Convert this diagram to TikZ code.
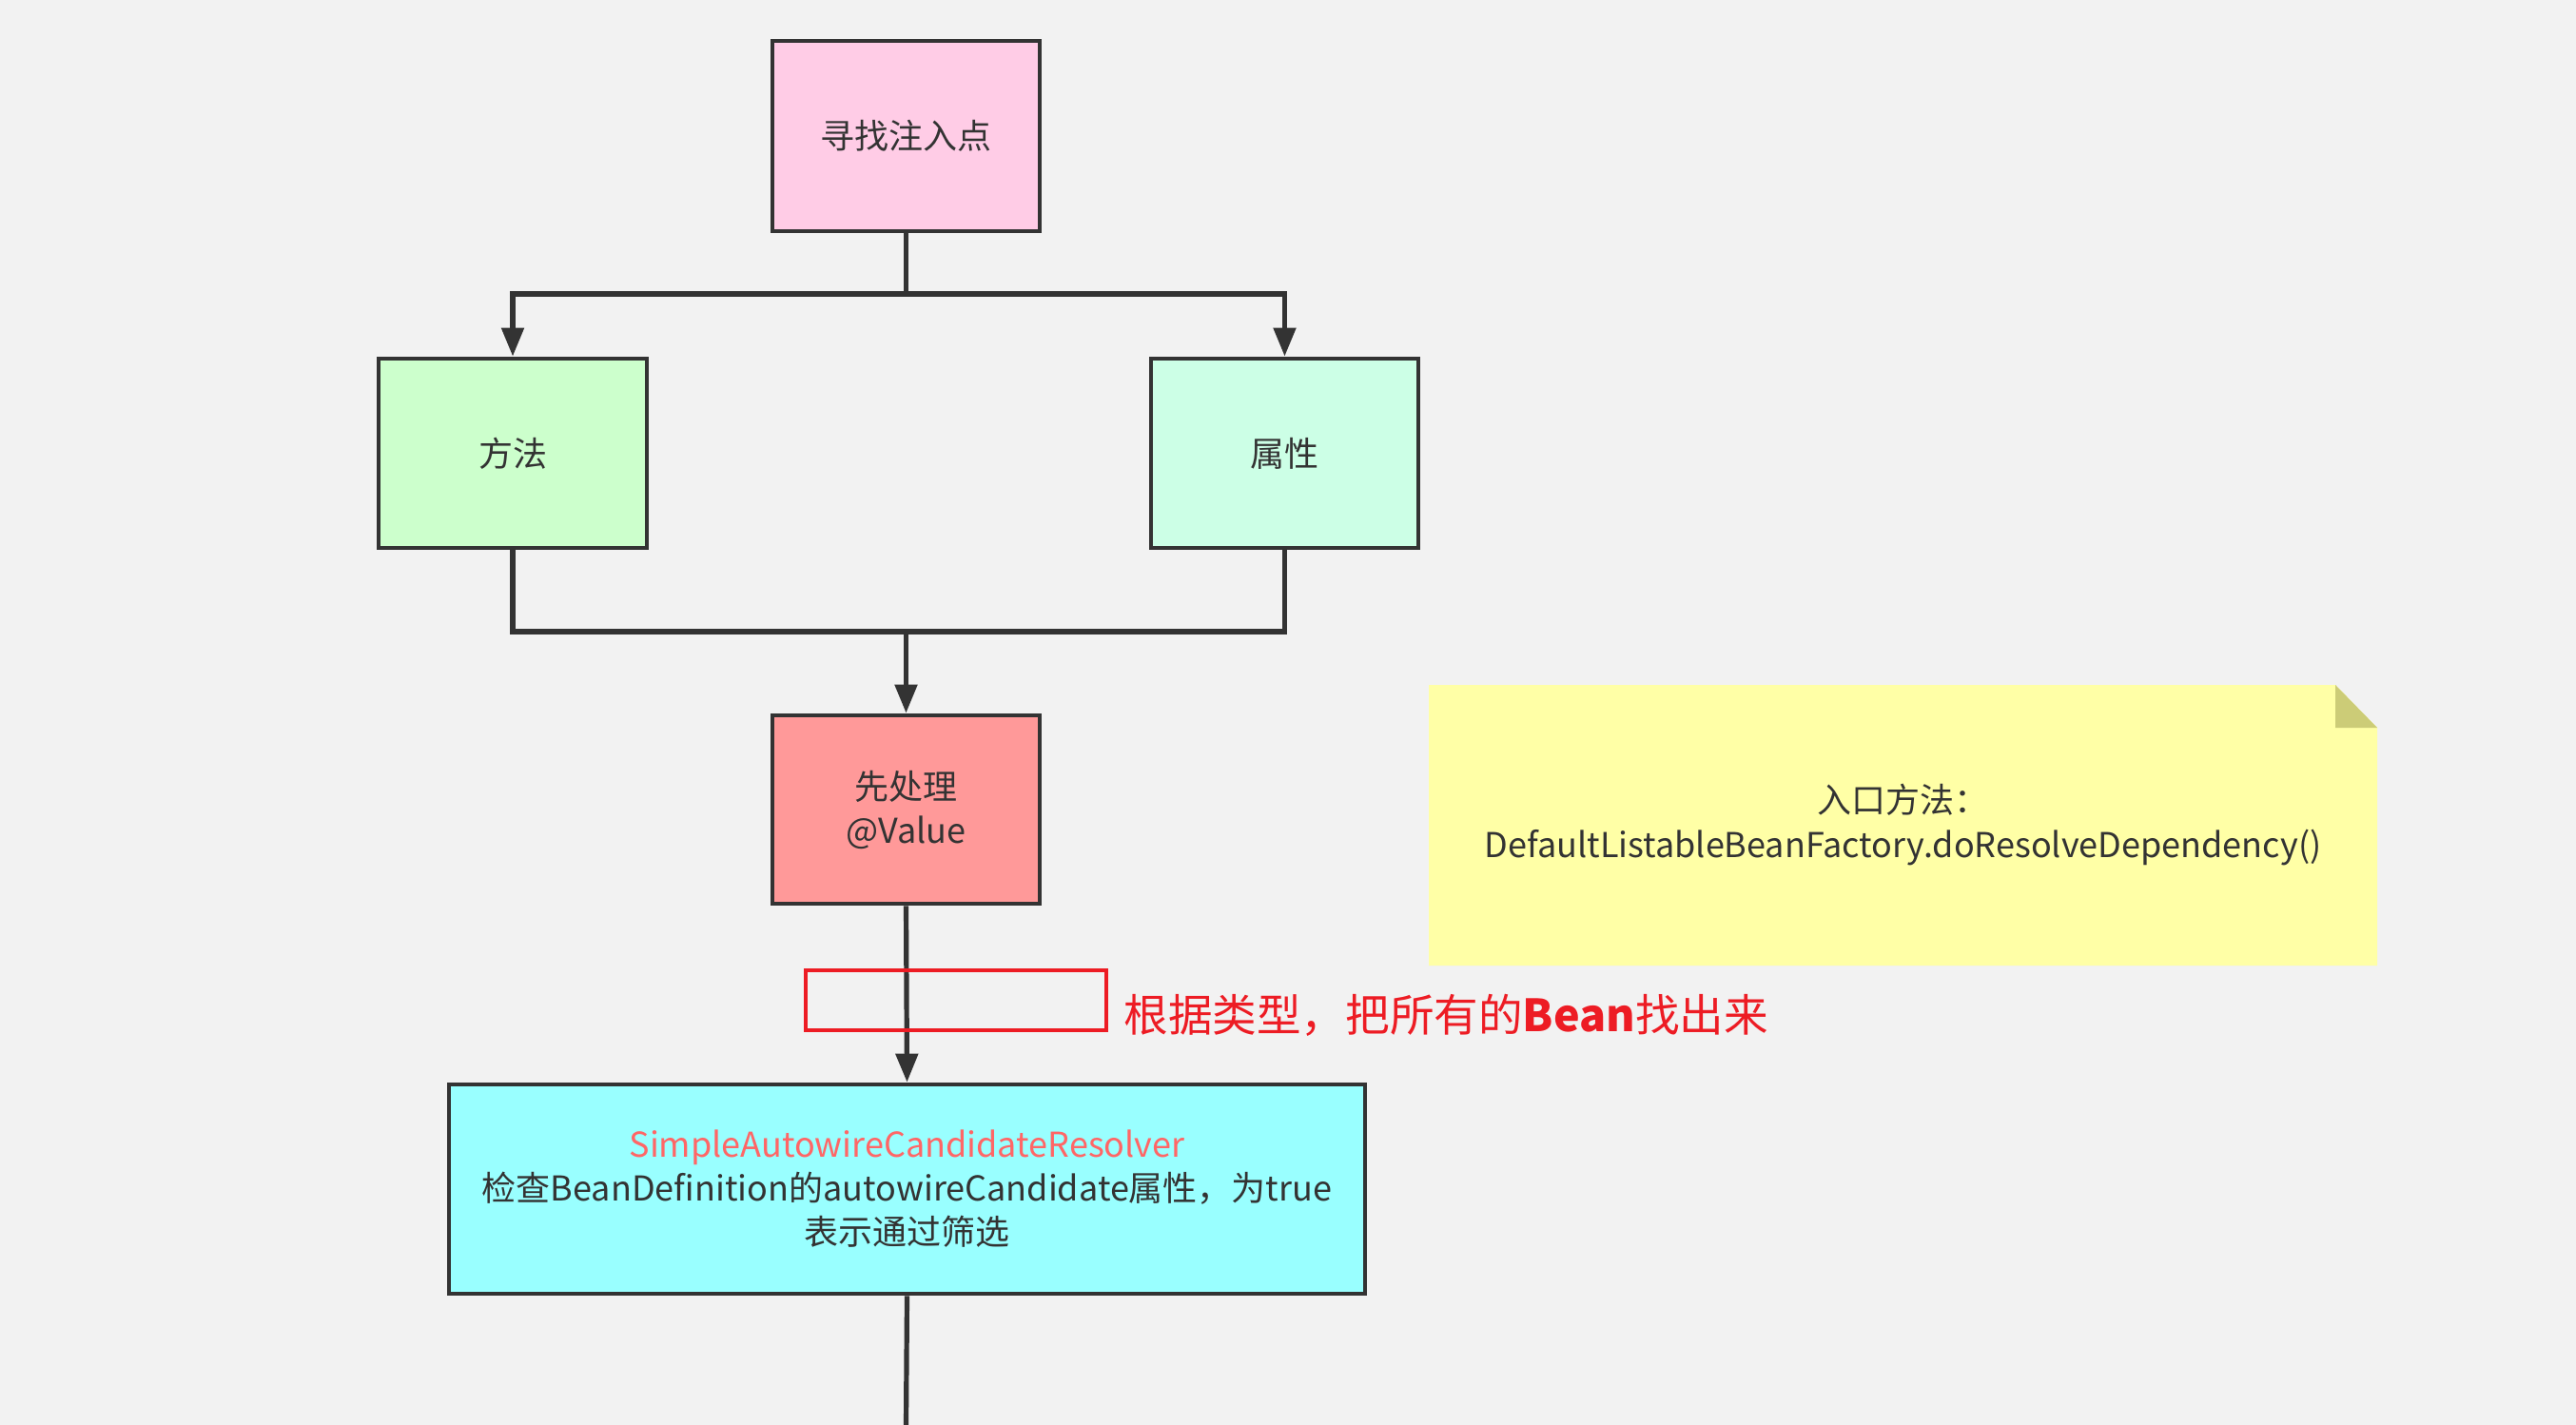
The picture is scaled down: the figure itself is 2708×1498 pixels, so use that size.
\documentclass[tikz,border=0pt]{standalone}
\usepackage{fontspec}
\setmainfont{Noto Sans CJK SC}
\usetikzlibrary{arrows.meta}
\definecolor{bgc}{HTML}{F2F2F2}
\definecolor{linec}{HTML}{333333}
\definecolor{pinkc}{HTML}{FFCCE6}
\definecolor{greenc}{HTML}{CCFFCC}
\definecolor{mintc}{HTML}{CCFFE6}
\definecolor{salmonc}{HTML}{FF9999}
\definecolor{cyanc}{HTML}{99FFFF}
\definecolor{notec}{HTML}{FFFFA6}
\definecolor{foldc}{HTML}{CCCC77}
\definecolor{redc}{HTML}{ED1C24}
\definecolor{lightred}{HTML}{FF6666}
\tikzset{
  box/.style={draw=linec, line width=2.4pt, rectangle, inner sep=0pt, align=center,
    text=linec, font=\fontsize{18}{23}\selectfont},
  conn/.style={draw=linec, line width=2.6pt},
  arr/.style={-{Triangle[length=15pt,width=11.5pt]}},
  notetext/.style={inner sep=0pt, align=center, text=linec, font=\fontsize{18}{23.5}\selectfont},
  hlbox/.style={draw=redc, line width=2pt, rectangle, inner sep=0pt},
  hltext/.style={text=redc, font=\fontsize{23.3}{28}\selectfont, inner sep=0pt, anchor=west}
}
\begin{document}
\begin{tikzpicture}[x=0.5pt,y=-0.5pt]
\fill[bgc] (0,0) rectangle (2708,1498);
\useasboundingbox (0,0) rectangle (2708,1498);

% note
\fill[notec] (1502,720) -- (2455,720) -- (2499,765) -- (2499,1015) -- (1502,1015) -- cycle;
\fill[foldc] (2455,720) -- (2499,765) -- (2455,765) -- cycle;
\node[notetext] (note) at (2000.5,866.5) {入口方法：\\DefaultListableBeanFactory.doResolveDependency()};

% boxes
\node[box, fill=pinkc, minimum width=140.5pt, minimum height=100pt] (top) at (952.5,143) {寻找注入点};
\node[box, fill=greenc, minimum width=141pt, minimum height=99.5pt] (m) at (539,476.5) {方法};
\node[box, fill=mintc, minimum width=140.5pt, minimum height=99.5pt] (p) at (1350.5,476.5) {属性};
\node[box, fill=salmonc, minimum width=140.5pt, minimum height=99pt] (v) at (952.5,851) {先处理\\@Value};
\node[box, fill=cyanc, minimum width=481.5pt, minimum height=110pt] (c) at (953.5,1250)
  {\textcolor{lightred}{SimpleAutowireCandidateResolver}\\检查BeanDefinition的autowireCandidate属性，为true\\表示通过筛选};

% connectors
\coordinate (split) at (952.5,309);
\coordinate (merge) at (952.5,664);
\coordinate (out) at (952.5,1498);
\draw[conn] (top.south) -- (split);
\draw[conn,arr] (split) -| (m.north);
\draw[conn,arr] (split) -| (p.north);
\draw[conn] (m.south) |- (merge);
\draw[conn] (p.south) |- (merge);
\draw[conn,arr] (merge) -- (v.north);
\draw[conn,arr] (v.south) -- (c.north);
\draw[conn] (c.south) -- (out);

% highlight
\node[hlbox, minimum width=158pt, minimum height=31.5pt] (hl) at (1005,1051.5) {};
\node[hltext] (hllabel) at (1181,1067) {根据类型，把所有的\textbf{Bean}找出来};
\end{tikzpicture}
\end{document}
